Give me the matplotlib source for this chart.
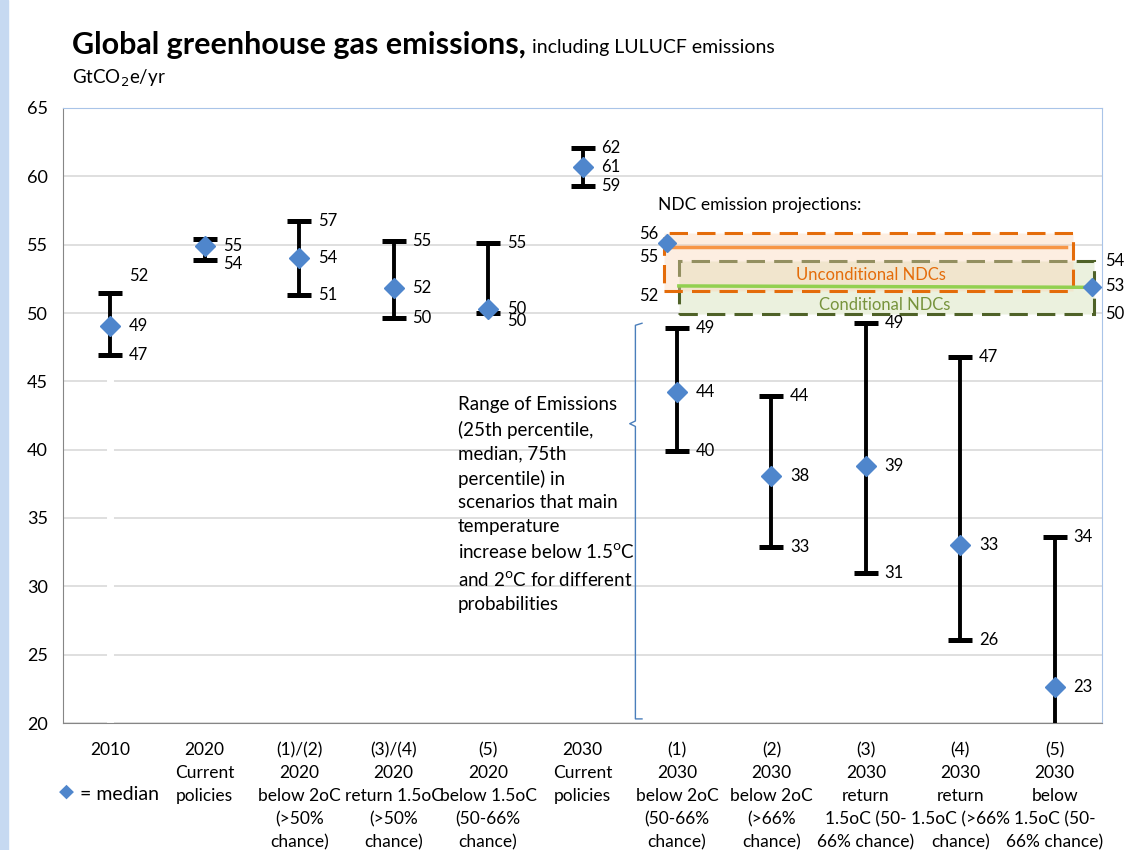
#!/usr/bin/env python3
# -*- coding: utf-8 -*-
"""
Global greenhouse gas emissions, including LULUCF emissions
Ranges (25th percentile, median, 75th percentile) per scenario
"""

import numpy as np
import matplotlib
matplotlib.use('Agg')
import matplotlib.pyplot as plt
from matplotlib.patches import Rectangle

plt.rcParams['font.family'] = ['Lato', 'DejaVu Sans']

# Data (GtCO2e/yr)
categories = ['2010',
              '2020\nCurrent\npolicies',
              '(1)/(2)\n2020\nbelow 2oC\n(>50%\nchance)',
              '(3)/(4)\n2020\nreturn 1.5oC\n(>50%\nchance)',
              '(5)\n2020\nbelow 1.5oC\n(50-66%\nchance)',
              '2030\nCurrent\npolicies',
              '(1)\n2030\nbelow 2oC\n(50-66%\nchance)',
              '(2)\n2030\nbelow 2oC\n(>66%\nchance)',
              '(3)\n2030\nreturn\n1.5oC (50-\n66% chance)',
              '(4)\n2030\nreturn\n1.5oC (>66%\nchance)',
              '(5)\n2030\nbelow\n1.5oC (50-\n66% chance)']
low = [46.9, 53.9, 51.3, 49.6, 50.0, 59.3, 39.9, 32.9, 31.0, 26.1, 14.0]
median = [49.05, 54.9, 54.0, 51.8, 50.3, 60.7, 44.2, 38.1, 38.8, 33.0, 22.6]
high = [51.5, 55.4, 56.7, 55.3, 55.1, 62.1, 48.9, 43.9, 49.3, 46.8, 33.6]

# NDC emission projections (x span, low, line, high)
uncond_x = [5.86, 10.19]
uncond = [51.6, 54.83, 55.85]
uncond_labels = ['52', '55', '56']
cond_x = [6.02, 10.42]
cond = [49.93, 51.98, 53.8]
cond_labels = ['50', '53', '54']
ndc_marker_x = [5.89, 10.39]
ndc_marker_y = [55.1, 51.9]

BLUE = '#4f86cc'
ORANGE = '#e46c0a'
GREEN_EDGE = '#4f6228'
FS = 12

fig = plt.figure(figsize=(11.39, 8.5), dpi=100)
fig.patches.append(Rectangle((0, 0), 0.007, 1, transform=fig.transFigure,
                             color='#c6d9f1', zorder=0))
ax = fig.add_axes([63/1139, 1 - 723/850, (1102 - 63)/1139, (723 - 108)/850])

x = np.arange(len(categories))
med = np.array(median)
yerr = [med - np.array(low), np.array(high) - med]

# grid and white gap below the 2010 range
ax.set_axisbelow(True)
ax.yaxis.grid(True, color='#d9d9d9', linewidth=1.2)
ax.plot([x[0], x[0]], [20, low[0] - 0.3], color='white', linewidth=5,
        zorder=1.5)

ax.errorbar(x, med, yerr=yerr, fmt='none', ecolor='black', elinewidth=2.8,
            capsize=8.6, capthick=3.6, zorder=3)
ax.plot(x, med, 'D', color=BLUE, markersize=10.5, zorder=4)

# data labels (2020 current: top label hidden under median label,
# 2030 (5): lower end is off the chart)
for i in x:
    ax.text(i + 0.3, median[i], f'{median[i]:.0f}', va='center', ha='center',
            fontsize=FS)
    if i != 1:
        dy = 1.2 if i == 0 else 0
        ax.text(i + 0.3, high[i] + dy, f'{high[i]:.0f}', va='center',
                ha='center', fontsize=FS)
    if i != 10:
        dy = {1: -0.35, 4: -0.6}.get(i, 0)
        ax.text(i + 0.3, low[i] + dy, f'{low[i]:.0f}', va='center',
                ha='center', fontsize=FS)

# NDC boxes
ax.add_patch(Rectangle((cond_x[0], cond[0]), cond_x[1] - cond_x[0],
                       cond[2] - cond[0], facecolor='#ebf1de',
                       edgecolor=GREEN_EDGE, linestyle=(0, (6, 3)),
                       linewidth=2.2, zorder=2))
ax.add_patch(Rectangle((uncond_x[0], uncond[0]), uncond_x[1] - uncond_x[0],
                       uncond[2] - uncond[0], facecolor=(0.984, 0.835, 0.71, 0.4),
                       edgecolor=ORANGE, linestyle=(0, (6, 3)),
                       linewidth=2.2, zorder=2.1))
ax.plot([uncond_x[0] + 0.06, uncond_x[1] - 0.07], [uncond[1], uncond[1]],
        color='#f79646', linewidth=2.5, zorder=2.2)
ax.plot([cond_x[0], cond_x[1] - 0.05], [cond[1], cond[1] - 0.1],
        color='#92d050', linewidth=2.5, zorder=2.2)
ax.plot(ndc_marker_x, ndc_marker_y, 'D', color=BLUE, markersize=9,
        zorder=4, clip_on=False)
ax.text(8.05, 52.8, 'Unconditional NDCs', color=ORANGE, ha='center',
        va='center', fontsize=12)
ax.text(8.2, 50.6, 'Conditional NDCs', color='#77933c', ha='center',
        va='center', fontsize=12)
ax.text(5.80, 57.9, 'NDC emission projections:', fontsize=12.5,
        va='center', ha='left')
for val, lab, dy in zip(uncond, uncond_labels, [-0.35, -0.73, -0.05]):
    ax.text(5.80, val + dy, lab, ha='right', va='center', fontsize=FS)
for val, lab in zip(cond, cond_labels):
    ax.text(10.53, val, lab, ha='left', va='center', fontsize=FS,
            clip_on=False)

# bracket and explanation
bx, by_top, by_bot, by_mid = 5.56, 49.1, 20.3, 41.9
ax.plot([bx + 0.07, bx, bx, bx - 0.06, bx, bx, bx + 0.07],
        [by_top + 0.15, by_top, by_mid + 0.2, by_mid, by_mid - 0.2, by_bot,
         by_bot], color='#4a7ebb', linewidth=1, zorder=2)
ax.text(3.68, 43.9, 'Range of Emissions\n(25th percentile,\nmedian, 75th\n'
        'percentile) in\nscenarios that main\ntemperature\n'
        'increase below 1.5$^{\\mathrm{o}}$C\nand 2$^{\\mathrm{o}}$C for different\n'
        'probabilities', va='top', ha='left', fontsize=13.5, linespacing=1.48)

# axes
ax.set_xlim(-0.5, len(categories) - 0.5)
ax.set_ylim(20, 65)
ax.set_yticks(np.arange(20, 66, 5))
ax.set_xticks(x)
ax.set_xticklabels(categories, fontsize=12.5, linespacing=1.52, va='top')
ax.tick_params(axis='both', length=0)
ax.tick_params(axis='x', pad=14)
ax.tick_params(axis='y', pad=11, labelsize=13)
for s in ['left', 'bottom']:
    ax.spines[s].set_color('#868686')
for s in ['top', 'right']:
    ax.spines[s].set_color('#a9c4e8')

# titles and legend
title = fig.text(72/1139, 1 - 45/850, 'Global greenhouse gas emissions,',
                 fontsize=22, fontweight='bold', va='center')
renderer = fig.canvas.get_renderer()
bb = title.get_window_extent(renderer)
fig.text((bb.x1 + 6)/1139, 1 - 48/850, 'including LULUCF emissions',
         fontsize=14, va='center')
fig.text(72/1139, 1 - 78/850, 'GtCO$_2$e/yr', fontsize=13.5, va='center')
fig.text(66/1139, 1 - 791/850, '\u25c6', color=BLUE, fontsize=14,
         ha='center', va='center', family=['DejaVu Sans'])
fig.text(80/1139, 1 - 795/850, '= median', fontsize=14, va='center')

fig.savefig('out.png', dpi=100)
